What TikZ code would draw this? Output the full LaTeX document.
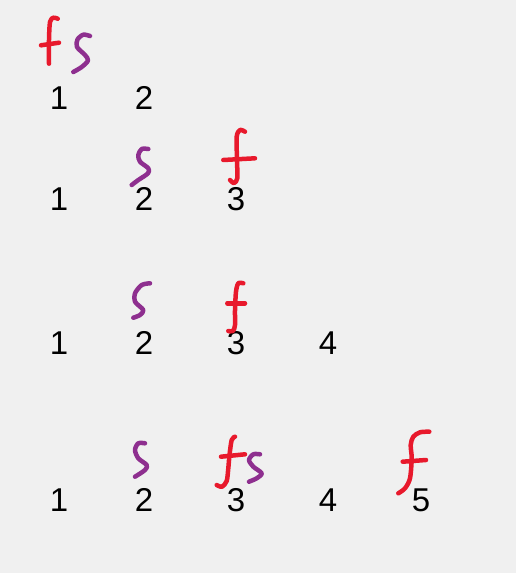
\documentclass[tikz,border=0pt]{standalone}
\usepackage{fontspec}
\setmainfont{Liberation Sans}
\definecolor{Bgcol}{HTML}{F0F0F0}
\definecolor{Fcol}{HTML}{E8192C}
\definecolor{Scol}{HTML}{8E2F8F}
\tikzset{
    num/.style={inner sep=0pt, font=\fontsize{33}{40}\selectfont},
    ink/.style={line width=4.5pt, line cap=round, line join=round},
    fstroke/.style={ink, Fcol},
    sstroke/.style={ink, Scol}
}

\begin{document}
\begin{tikzpicture}[x=1pt, y=-1pt]
    % Background
    \fill[Bgcol] (0,0) rectangle (516,573);
    \useasboundingbox (0,0) rectangle (516,573);

    % Row 1
    \node[num] (r1n1) at (59,98) {1};
    \node[num] (r1n2) at (144,98) {2};
    \draw[fstroke] plot[smooth] coordinates {(57.7,18.7) (53.3,17.7) (50,22) (49,40) (49,63.7)};
    \draw[fstroke] (41,45.3) -- (59,42.7);
    \draw[sstroke] plot[smooth] coordinates {(90,36) (83.3,34.7) (77.5,39.5) (77,47) (85,55) (88,60.5) (81.7,67) (73.3,72)};

    % Row 2
    \node[num] (r2n1) at (59,199) {1};
    \node[num] (r2n2) at (144,199) {2};
    \node[num] (r2n3) at (236,199) {3};
    \draw[sstroke] plot[smooth] coordinates {(148.3,149) (141.7,149) (138.3,155) (140,161.7) (148.3,168.3) (148,173.3) (138.3,180) (131.7,185)};
    \draw[fstroke] plot[smooth] coordinates {(245,131.7) (240,130) (236.7,136.7) (237,160) (237.3,178.3) (234,183) (230,180)};
    \draw[fstroke] (223.3,160) -- (255,158.3);

    % Row 3
    \node[num] (r3n1) at (59,343) {1};
    \node[num] (r3n2) at (144,343) {2};
    \node[num] (r3n3) at (236,343) {3};
    \node[num] (r3n4) at (328,343) {4};
    \draw[sstroke] plot[smooth] coordinates {(150,283.3) (141.7,285) (135,293.3) (135,301.7) (143.3,310) (140,315) (133.3,317.7)};
    \draw[fstroke] plot[smooth] coordinates {(243.3,283.3) (238.3,283.3) (236,291.7) (235,310) (235,325) (233,331) (228.3,331)};
    \draw[fstroke] (227.3,303.3) -- (245,303.3);

    % Row 4
    \node[num] (r4n1) at (59,500) {1};
    \node[num] (r4n2) at (144,500) {2};
    \node[num] (r4n3) at (236,500) {3};
    \node[num] (r4n4) at (328,500) {4};
    \node[num] (r4n5) at (421,500) {5};
    \draw[sstroke] plot[smooth] coordinates {(145,443.3) (138.3,443.3) (135,450) (138.3,458.3) (146.7,465) (145,470) (135,476.7)};
    \draw[fstroke] plot[smooth] coordinates {(235,436.7) (231.7,440) (229.5,455) (228.3,468.3) (226.7,481) (222,486.7) (216.7,485)};
    \draw[fstroke] (221,456.7) -- (245,454.3);
    \draw[sstroke] plot[smooth] coordinates {(260,454.3) (253.3,454.3) (249,460) (253.3,466.7) (261.7,473.3) (256.7,478.3) (249,481.7)};
    \draw[fstroke] plot[smooth] coordinates {(429.3,431.7) (420,432.3) (413.3,436.7) (410.7,445) (411.7,458.3) (410,478.3) (405,488.3) (398.3,493.3)};
    \draw[fstroke] (402.7,461.7) -- (426,460);
\end{tikzpicture}
\end{document}
